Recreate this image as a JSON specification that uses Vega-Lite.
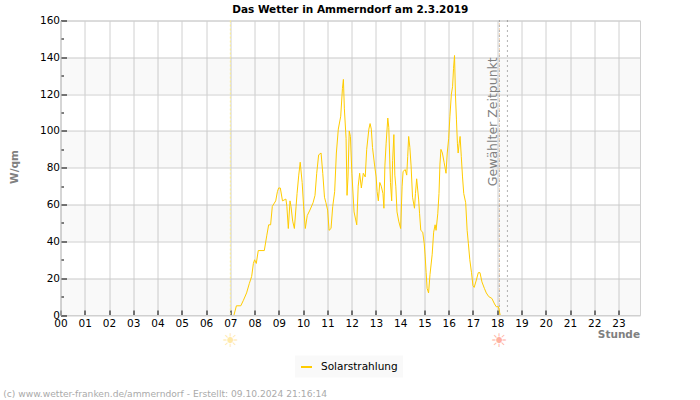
{"$schema":"https://vega.github.io/schema/vega-lite/v6.json","width":579.5,"height":294.5,"autosize":"none","padding":{"left":60.5,"top":20.5,"right":60,"bottom":85},"background":"white","config":{"view":{"stroke":"#d0d0d0"},"font":"DejaVu Sans"},"title":{"text":"Das Wetter in Ammerndorf am 2.3.2019","font":"DejaVu Sans","fontSize":10.5,"fontWeight":"bold","color":"#000000","anchor":"middle","offset":0},"datasets":{"solar":[{"h":7.15,"v":0},{"h":7.25,"v":5},{"h":7.43,"v":5},{"h":7.54,"v":8},{"h":7.67,"v":12},{"h":7.78,"v":17},{"h":7.88,"v":21},{"h":7.95,"v":28},{"h":8.0,"v":30},{"h":8.07,"v":28},{"h":8.15,"v":35},{"h":8.4,"v":35},{"h":8.5,"v":43},{"h":8.58,"v":49},{"h":8.66,"v":49},{"h":8.73,"v":59},{"h":8.87,"v":62},{"h":8.94,"v":67},{"h":8.99,"v":69},{"h":9.06,"v":69},{"h":9.15,"v":62},{"h":9.29,"v":63},{"h":9.33,"v":59},{"h":9.39,"v":47},{"h":9.46,"v":62},{"h":9.5,"v":59},{"h":9.57,"v":51},{"h":9.64,"v":47},{"h":9.71,"v":59},{"h":9.75,"v":66},{"h":9.82,"v":76},{"h":9.88,"v":83},{"h":9.96,"v":72},{"h":10.02,"v":59},{"h":10.09,"v":47},{"h":10.17,"v":54},{"h":10.28,"v":57},{"h":10.41,"v":61},{"h":10.49,"v":65},{"h":10.56,"v":77},{"h":10.64,"v":87},{"h":10.74,"v":88},{"h":10.81,"v":77},{"h":10.88,"v":64},{"h":10.94,"v":61},{"h":11.01,"v":57},{"h":11.07,"v":46},{"h":11.15,"v":47},{"h":11.22,"v":59},{"h":11.3,"v":67},{"h":11.37,"v":88},{"h":11.45,"v":101},{"h":11.55,"v":108},{"h":11.62,"v":123},{"h":11.66,"v":128},{"h":11.7,"v":112},{"h":11.77,"v":96},{"h":11.81,"v":65},{"h":11.85,"v":75},{"h":11.9,"v":100},{"h":11.95,"v":97},{"h":12.01,"v":77},{"h":12.1,"v":56},{"h":12.21,"v":49},{"h":12.27,"v":70},{"h":12.33,"v":77},{"h":12.4,"v":69},{"h":12.48,"v":77},{"h":12.56,"v":75},{"h":12.62,"v":90},{"h":12.71,"v":101},{"h":12.76,"v":104},{"h":12.81,"v":101},{"h":12.86,"v":91},{"h":12.94,"v":82},{"h":13.01,"v":75},{"h":13.05,"v":67},{"h":13.1,"v":62},{"h":13.16,"v":72},{"h":13.22,"v":70},{"h":13.29,"v":66},{"h":13.33,"v":58},{"h":13.37,"v":81},{"h":13.42,"v":93},{"h":13.49,"v":107},{"h":13.53,"v":102},{"h":13.6,"v":72},{"h":13.65,"v":62},{"h":13.69,"v":84},{"h":13.74,"v":98},{"h":13.78,"v":76},{"h":13.82,"v":70},{"h":13.87,"v":56},{"h":13.94,"v":51},{"h":14.02,"v":47},{"h":14.08,"v":70},{"h":14.12,"v":78},{"h":14.21,"v":79},{"h":14.27,"v":76},{"h":14.31,"v":86},{"h":14.35,"v":97},{"h":14.4,"v":91},{"h":14.45,"v":81},{"h":14.51,"v":64},{"h":14.59,"v":58},{"h":14.63,"v":66},{"h":14.68,"v":74},{"h":14.76,"v":63},{"h":14.8,"v":55},{"h":14.85,"v":46},{"h":14.93,"v":45},{"h":14.99,"v":39},{"h":15.03,"v":32},{"h":15.07,"v":23},{"h":15.11,"v":14.5},{"h":15.17,"v":12},{"h":15.23,"v":22},{"h":15.32,"v":33},{"h":15.38,"v":45},{"h":15.44,"v":49},{"h":15.48,"v":46},{"h":15.55,"v":55},{"h":15.6,"v":66},{"h":15.64,"v":82},{"h":15.68,"v":90},{"h":15.74,"v":88},{"h":15.81,"v":83},{"h":15.89,"v":77},{"h":15.94,"v":88},{"h":16.0,"v":96},{"h":16.05,"v":108},{"h":16.11,"v":120},{"h":16.16,"v":124},{"h":16.2,"v":134},{"h":16.24,"v":141},{"h":16.28,"v":119},{"h":16.32,"v":106},{"h":16.36,"v":93},{"h":16.39,"v":88},{"h":16.43,"v":93},{"h":16.47,"v":97},{"h":16.52,"v":86},{"h":16.57,"v":75},{"h":16.62,"v":66},{"h":16.7,"v":61},{"h":16.76,"v":46},{"h":16.81,"v":39},{"h":16.87,"v":30},{"h":16.94,"v":23},{"h":17.0,"v":16},{"h":17.05,"v":15},{"h":17.14,"v":19},{"h":17.22,"v":23},{"h":17.29,"v":23},{"h":17.37,"v":18},{"h":17.47,"v":14.5},{"h":17.55,"v":12},{"h":17.65,"v":10},{"h":17.78,"v":9},{"h":17.89,"v":6},{"h":17.96,"v":4.5},{"h":18.05,"v":4.5},{"h":18.12,"v":0}]},"layer":[{"data":{"values":[{"a":0,"b":20},{"a":40,"b":60},{"a":80,"b":100},{"a":120,"b":140}]},"mark":{"type":"rect","fill":"#000000","fillOpacity":0.025},"encoding":{"y":{"field":"a","type":"quantitative","scale":{"domain":[0,160],"nice":false},"axis":{"values":[0,10,20,30,40,50,60,70,80,90,100,110,120,130,140,150,160],"tickCount":100,"labelOverlap":false,"labelFlush":false,"labelExpr":"datum.value % 20 == 0 ? datum.label : ''","labelFontSize":10.5,"labelColor":"#000000","labelPadding":7,"gridColor":"#d0d0d0","gridOpacity":{"condition":{"test":"datum.value % 20 == 0","value":1},"value":0},"tickColor":"#000000","tickSize":{"condition":{"test":"datum.value % 20 == 0","value":-6},"value":-3},"domainColor":"#d0d0d0","title":"W/qm","titleColor":"#808080","titleFontSize":10.5,"titleFontWeight":"bold","titleX":-41,"titleY":146,"titleAlign":"center","titleAnchor":"middle"}},"y2":{"field":"b"}}},{"data":{"values":[{"h":7}]},"mark":{"type":"rule","color":"#ffee88","strokeDash":[2,2],"strokeWidth":1},"encoding":{"x":{"field":"h","type":"quantitative"}}},{"data":{"values":[{"h":18.09}]},"mark":{"type":"rule","color":"#e8a868","strokeDash":[1,4],"strokeDashOffset":2,"strokeWidth":1},"encoding":{"x":{"field":"h","type":"quantitative"}}},{"data":{"values":[{"h":18.09},{"h":18.42}]},"mark":{"type":"rule","color":"#666666","strokeDash":[1,4],"strokeWidth":1},"encoding":{"x":{"field":"h","type":"quantitative"}}},{"data":{"name":"solar"},"mark":{"type":"line","strokeWidth":1,"interpolate":"linear"},"encoding":{"x":{"field":"h","type":"quantitative","scale":{"domain":[0,23.885],"nice":false,"zero":false},"axis":{"values":[0,1,2,3,4,5,6,7,8,9,10,11,12,13,14,15,16,17,18,19,20,21,22,23],"tickCount":100,"labelExpr":"datum.value < 10 ? '0' + datum.value : '' + datum.value","labelFontSize":10.5,"labelColor":"#000000","labelPadding":8,"labelFlush":false,"labelOverlap":false,"gridColor":"#d0d0d0","grid":true,"tickColor":"#000000","tickSize":-5,"domainColor":"#d0d0d0","title":"Stunde","titleColor":"#808080","titleFontSize":10.5,"titleFontWeight":"bold","titleAlign":"right","titleBaseline":"middle","titleX":579,"titleY":19}},"y":{"field":"v","type":"quantitative"},"color":{"field":"s","type":"nominal","scale":{"domain":["Solarstrahlung"],"range":["#ffcc00"]},"legend":{"orient":"none","legendX":234.5,"legendY":335,"title":null,"fillColor":"#f9f9f9","padding":5,"symbolType":"stroke","symbolSize":120,"symbolStrokeWidth":2,"labelOffset":8,"labelFontSize":10.5,"labelColor":"#000000","labelFont":"DejaVu Sans"}}},"transform":[{"calculate":"'Solarstrahlung'","as":"s"}]},{"data":{"values":[{"h":17.82,"v":70,"t":"Gewählter Zeitpunkt"}]},"mark":{"type":"text","angle":270,"align":"left","baseline":"middle","fontSize":12.5,"color":"#808080","font":"DejaVu Sans"},"encoding":{"x":{"field":"h","type":"quantitative"},"y":{"field":"v","type":"quantitative"},"text":{"field":"t"}}},{"data":{"values":[{"h":7,"v":-14.3,"t":"☀"}]},"mark":{"type":"text","fontSize":19,"color":"#ffe9a8","font":"DejaVu Sans","align":"center","baseline":"middle"},"encoding":{"x":{"field":"h","type":"quantitative"},"y":{"field":"v","type":"quantitative"},"text":{"field":"t"}}},{"data":{"values":[{"h":18.07,"v":-14.3,"t":"☀"}]},"mark":{"type":"text","fontSize":19,"color":"#ffb0a0","font":"DejaVu Sans","align":"center","baseline":"middle"},"encoding":{"x":{"field":"h","type":"quantitative"},"y":{"field":"v","type":"quantitative"},"text":{"field":"t"}}},{"data":{"values":[{"h":-2.36,"v":-43,"t":"(c) www.wetter-franken.de/ammerndorf - Erstellt: 09.10.2024 21:16:14"}]},"mark":{"type":"text","fontSize":9.15,"color":"#aaaaaa","font":"DejaVu Sans","align":"left","baseline":"middle"},"encoding":{"x":{"field":"h","type":"quantitative"},"y":{"field":"v","type":"quantitative"},"text":{"field":"t"}}}]}
